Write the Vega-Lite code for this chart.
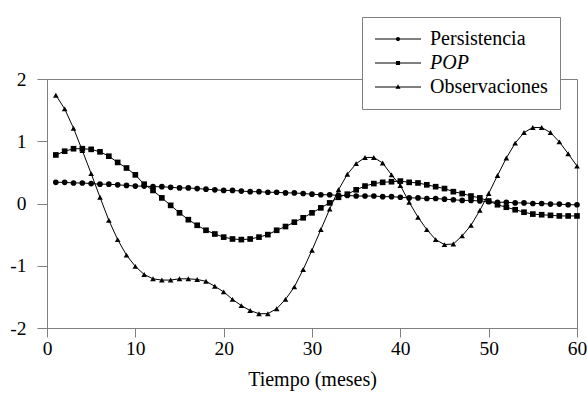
{
  "$schema": "https://vega.github.io/schema/vega-lite/v6.json",
  "width": 530,
  "height": 249,
  "autosize": {"type": "none"},
  "padding": {"left": 47, "top": 79, "right": 10, "bottom": 79},
  "background": "white",
  "config": {
    "font": "Times New Roman, Liberation Serif, serif",
    "view": {"stroke": "#808080", "strokeWidth": 1},
    "axis": {
      "domainColor": "#808080",
      "tickColor": "#808080",
      "labelColor": "black",
      "titleColor": "black",
      "labelFont": "Times New Roman, Liberation Serif, serif",
      "titleFont": "Times New Roman, Liberation Serif, serif",
      "labelFontSize": 19.5,
      "titleFontSize": 20,
      "titleFontWeight": "normal",
      "grid": false
    },
    "legend": {"labelFont": "Times New Roman, Liberation Serif, serif"}
  },
  "data": {
    "values": [
      {"mes":1,"serie":"Persistencia","valor":0.34},{"mes":2,"serie":"Persistencia","valor":0.34},{"mes":3,"serie":"Persistencia","valor":0.33},{"mes":4,"serie":"Persistencia","valor":0.33},{"mes":5,"serie":"Persistencia","valor":0.32},{"mes":6,"serie":"Persistencia","valor":0.31},{"mes":7,"serie":"Persistencia","valor":0.31},{"mes":8,"serie":"Persistencia","valor":0.30},{"mes":9,"serie":"Persistencia","valor":0.29},{"mes":10,"serie":"Persistencia","valor":0.28},
      {"mes":11,"serie":"Persistencia","valor":0.28},{"mes":12,"serie":"Persistencia","valor":0.27},{"mes":13,"serie":"Persistencia","valor":0.27},{"mes":14,"serie":"Persistencia","valor":0.26},{"mes":15,"serie":"Persistencia","valor":0.25},{"mes":16,"serie":"Persistencia","valor":0.25},{"mes":17,"serie":"Persistencia","valor":0.24},{"mes":18,"serie":"Persistencia","valor":0.23},{"mes":19,"serie":"Persistencia","valor":0.22},{"mes":20,"serie":"Persistencia","valor":0.21},
      {"mes":21,"serie":"Persistencia","valor":0.21},{"mes":22,"serie":"Persistencia","valor":0.20},{"mes":23,"serie":"Persistencia","valor":0.19},{"mes":24,"serie":"Persistencia","valor":0.19},{"mes":25,"serie":"Persistencia","valor":0.18},{"mes":26,"serie":"Persistencia","valor":0.18},{"mes":27,"serie":"Persistencia","valor":0.17},{"mes":28,"serie":"Persistencia","valor":0.17},{"mes":29,"serie":"Persistencia","valor":0.16},{"mes":30,"serie":"Persistencia","valor":0.15},
      {"mes":31,"serie":"Persistencia","valor":0.14},{"mes":32,"serie":"Persistencia","valor":0.14},{"mes":33,"serie":"Persistencia","valor":0.13},{"mes":34,"serie":"Persistencia","valor":0.13},{"mes":35,"serie":"Persistencia","valor":0.12},{"mes":36,"serie":"Persistencia","valor":0.12},{"mes":37,"serie":"Persistencia","valor":0.12},{"mes":38,"serie":"Persistencia","valor":0.11},{"mes":39,"serie":"Persistencia","valor":0.11},{"mes":40,"serie":"Persistencia","valor":0.10},
      {"mes":41,"serie":"Persistencia","valor":0.09},{"mes":42,"serie":"Persistencia","valor":0.09},{"mes":43,"serie":"Persistencia","valor":0.08},{"mes":44,"serie":"Persistencia","valor":0.08},{"mes":45,"serie":"Persistencia","valor":0.07},{"mes":46,"serie":"Persistencia","valor":0.06},{"mes":47,"serie":"Persistencia","valor":0.05},{"mes":48,"serie":"Persistencia","valor":0.05},{"mes":49,"serie":"Persistencia","valor":0.04},{"mes":50,"serie":"Persistencia","valor":0.03},
      {"mes":51,"serie":"Persistencia","valor":0.02},{"mes":52,"serie":"Persistencia","valor":0.02},{"mes":53,"serie":"Persistencia","valor":0.01},{"mes":54,"serie":"Persistencia","valor":0.01},{"mes":55,"serie":"Persistencia","valor":0.00},{"mes":56,"serie":"Persistencia","valor":0.00},{"mes":57,"serie":"Persistencia","valor":-0.01},{"mes":58,"serie":"Persistencia","valor":-0.01},{"mes":59,"serie":"Persistencia","valor":-0.02},{"mes":60,"serie":"Persistencia","valor":-0.02},

      {"mes":1,"serie":"POP","valor":0.78},{"mes":2,"serie":"POP","valor":0.84},{"mes":3,"serie":"POP","valor":0.88},{"mes":4,"serie":"POP","valor":0.88},{"mes":5,"serie":"POP","valor":0.87},{"mes":6,"serie":"POP","valor":0.83},{"mes":7,"serie":"POP","valor":0.76},{"mes":8,"serie":"POP","valor":0.66},{"mes":9,"serie":"POP","valor":0.57},{"mes":10,"serie":"POP","valor":0.46},
      {"mes":11,"serie":"POP","valor":0.31},{"mes":12,"serie":"POP","valor":0.21},{"mes":13,"serie":"POP","valor":0.09},{"mes":14,"serie":"POP","valor":-0.03},{"mes":15,"serie":"POP","valor":-0.15},{"mes":16,"serie":"POP","valor":-0.26},{"mes":17,"serie":"POP","valor":-0.35},{"mes":18,"serie":"POP","valor":-0.43},{"mes":19,"serie":"POP","valor":-0.49},{"mes":20,"serie":"POP","valor":-0.54},
      {"mes":21,"serie":"POP","valor":-0.57},{"mes":22,"serie":"POP","valor":-0.58},{"mes":23,"serie":"POP","valor":-0.57},{"mes":24,"serie":"POP","valor":-0.54},{"mes":25,"serie":"POP","valor":-0.50},{"mes":26,"serie":"POP","valor":-0.43},{"mes":27,"serie":"POP","valor":-0.37},{"mes":28,"serie":"POP","valor":-0.30},{"mes":29,"serie":"POP","valor":-0.23},{"mes":30,"serie":"POP","valor":-0.15},
      {"mes":31,"serie":"POP","valor":-0.07},{"mes":32,"serie":"POP","valor":0.01},{"mes":33,"serie":"POP","valor":0.10},{"mes":34,"serie":"POP","valor":0.15},{"mes":35,"serie":"POP","valor":0.22},{"mes":36,"serie":"POP","valor":0.28},{"mes":37,"serie":"POP","valor":0.32},{"mes":38,"serie":"POP","valor":0.34},{"mes":39,"serie":"POP","valor":0.35},{"mes":40,"serie":"POP","valor":0.36},
      {"mes":41,"serie":"POP","valor":0.34},{"mes":42,"serie":"POP","valor":0.33},{"mes":43,"serie":"POP","valor":0.30},{"mes":44,"serie":"POP","valor":0.27},{"mes":45,"serie":"POP","valor":0.24},{"mes":46,"serie":"POP","valor":0.19},{"mes":47,"serie":"POP","valor":0.16},{"mes":48,"serie":"POP","valor":0.12},{"mes":49,"serie":"POP","valor":0.09},{"mes":50,"serie":"POP","valor":0.04},
      {"mes":51,"serie":"POP","valor":-0.02},{"mes":52,"serie":"POP","valor":-0.06},{"mes":53,"serie":"POP","valor":-0.10},{"mes":54,"serie":"POP","valor":-0.14},{"mes":55,"serie":"POP","valor":-0.17},{"mes":56,"serie":"POP","valor":-0.18},{"mes":57,"serie":"POP","valor":-0.19},{"mes":58,"serie":"POP","valor":-0.20},{"mes":59,"serie":"POP","valor":-0.20},{"mes":60,"serie":"POP","valor":-0.20},

      {"mes":1,"serie":"Observaciones","valor":1.74},{"mes":2,"serie":"Observaciones","valor":1.52},{"mes":3,"serie":"Observaciones","valor":1.21},{"mes":4,"serie":"Observaciones","valor":0.85},{"mes":5,"serie":"Observaciones","valor":0.48},{"mes":6,"serie":"Observaciones","valor":0.10},{"mes":7,"serie":"Observaciones","valor":-0.27},{"mes":8,"serie":"Observaciones","valor":-0.58},{"mes":9,"serie":"Observaciones","valor":-0.83},{"mes":10,"serie":"Observaciones","valor":-1.01},
      {"mes":11,"serie":"Observaciones","valor":-1.14},{"mes":12,"serie":"Observaciones","valor":-1.21},{"mes":13,"serie":"Observaciones","valor":-1.23},{"mes":14,"serie":"Observaciones","valor":-1.23},{"mes":15,"serie":"Observaciones","valor":-1.21},{"mes":16,"serie":"Observaciones","valor":-1.21},{"mes":17,"serie":"Observaciones","valor":-1.22},{"mes":18,"serie":"Observaciones","valor":-1.25},{"mes":19,"serie":"Observaciones","valor":-1.33},{"mes":20,"serie":"Observaciones","valor":-1.42},
      {"mes":21,"serie":"Observaciones","valor":-1.54},{"mes":22,"serie":"Observaciones","valor":-1.64},{"mes":23,"serie":"Observaciones","valor":-1.72},{"mes":24,"serie":"Observaciones","valor":-1.77},{"mes":25,"serie":"Observaciones","valor":-1.77},{"mes":26,"serie":"Observaciones","valor":-1.69},{"mes":27,"serie":"Observaciones","valor":-1.54},{"mes":28,"serie":"Observaciones","valor":-1.34},{"mes":29,"serie":"Observaciones","valor":-1.06},{"mes":30,"serie":"Observaciones","valor":-0.75},
      {"mes":31,"serie":"Observaciones","valor":-0.42},{"mes":32,"serie":"Observaciones","valor":-0.09},{"mes":33,"serie":"Observaciones","valor":0.22},{"mes":34,"serie":"Observaciones","valor":0.47},{"mes":35,"serie":"Observaciones","valor":0.64},{"mes":36,"serie":"Observaciones","valor":0.74},{"mes":37,"serie":"Observaciones","valor":0.74},{"mes":38,"serie":"Observaciones","valor":0.65},{"mes":39,"serie":"Observaciones","valor":0.46},{"mes":40,"serie":"Observaciones","valor":0.29},
      {"mes":41,"serie":"Observaciones","valor":0.02},{"mes":42,"serie":"Observaciones","valor":-0.22},{"mes":43,"serie":"Observaciones","valor":-0.42},{"mes":44,"serie":"Observaciones","valor":-0.58},{"mes":45,"serie":"Observaciones","valor":-0.66},{"mes":46,"serie":"Observaciones","valor":-0.65},{"mes":47,"serie":"Observaciones","valor":-0.52},{"mes":48,"serie":"Observaciones","valor":-0.35},{"mes":49,"serie":"Observaciones","valor":-0.11},{"mes":50,"serie":"Observaciones","valor":0.16},
      {"mes":51,"serie":"Observaciones","valor":0.45},{"mes":52,"serie":"Observaciones","valor":0.73},{"mes":53,"serie":"Observaciones","valor":0.97},{"mes":54,"serie":"Observaciones","valor":1.14},{"mes":55,"serie":"Observaciones","valor":1.22},{"mes":56,"serie":"Observaciones","valor":1.22},{"mes":57,"serie":"Observaciones","valor":1.14},{"mes":58,"serie":"Observaciones","valor":0.99},{"mes":59,"serie":"Observaciones","valor":0.80},{"mes":60,"serie":"Observaciones","valor":0.60}
    ]
  },
  "encoding": {
    "x": {
      "field": "mes", "type": "quantitative",
      "scale": {"domain": [0, 60], "nice": false, "zero": false},
      "axis": {"values": [0,10,20,30,40,50,60], "title": "Tiempo (meses)", "tickSize": 9, "labelPadding": 2, "titlePadding": 12, "labelFlush": false}
    },
    "y": {
      "field": "valor", "type": "quantitative",
      "scale": {"domain": [-2, 2], "nice": false},
      "axis": {"values": [-2,-1,0,1,2], "title": null, "tickSize": 10, "labelPadding": 11, "labelFlush": false, "labelExpr": "'' + datum.value"}
    }
  },
  "layer": [
    {
      "mark": {"type": "line", "color": "black", "strokeWidth": 1},
      "encoding": {"detail": {"field": "serie"}}
    },
    {
      "mark": {"type": "point", "filled": true, "color": "black", "opacity": 1, "size": 32},
      "encoding": {
        "shape": {
          "field": "serie", "type": "nominal",
          "scale": {"domain": ["Persistencia", "POP", "Observaciones"], "range": ["circle", "square", "triangle-up"]},
          "legend": null
        }
      }
    },
    {
      "mark": {"type": "point", "filled": true, "fill": "black", "opacity": 0, "size": 2116},
      "encoding": {
        "shape": {
          "field": "serie", "type": "nominal",
          "scale": {
            "domain": ["Persistencia", "POP", "Observaciones"],
            "range": [
              "M-1,-0.022L1,-0.022L1,0.022L-1,0.022ZM-0.09,0A0.09,0.09,0,1,1,0.09,0A0.09,0.09,0,1,1,-0.09,0Z",
              "M-1,-0.022L1,-0.022L1,0.022L-1,0.022ZM-0.09,-0.09L0.09,-0.09L0.09,0.09L-0.09,0.09Z",
              "M-1,-0.022L1,-0.022L1,0.022L-1,0.022ZM0,-0.12L0.11,0.08L-0.11,0.08Z"
            ]
          },
          "legend": {
            "title": null,
            "orient": "none",
            "legendX": 315,
            "legendY": -62,
            "fillColor": "white",
            "strokeColor": "#808080",
            "padding": 12,
            "labelFontSize": 20,
            "labelColor": "black",
            "labelOffset": 8,
            "rowPadding": 4,
            "clipHeight": 20,
            "symbolSize": 2116,
            "symbolOpacity": 1,
            "symbolFillColor": "black",
            "labelLimit": 300,
            "labelFontStyle": {"expr": "datum.value === 'POP' ? 'italic' : 'normal'"}
          }
        }
      }
    }
  ],
  "resolve": {"scale": {"shape": "independent"}, "legend": {"shape": "independent"}}
}
